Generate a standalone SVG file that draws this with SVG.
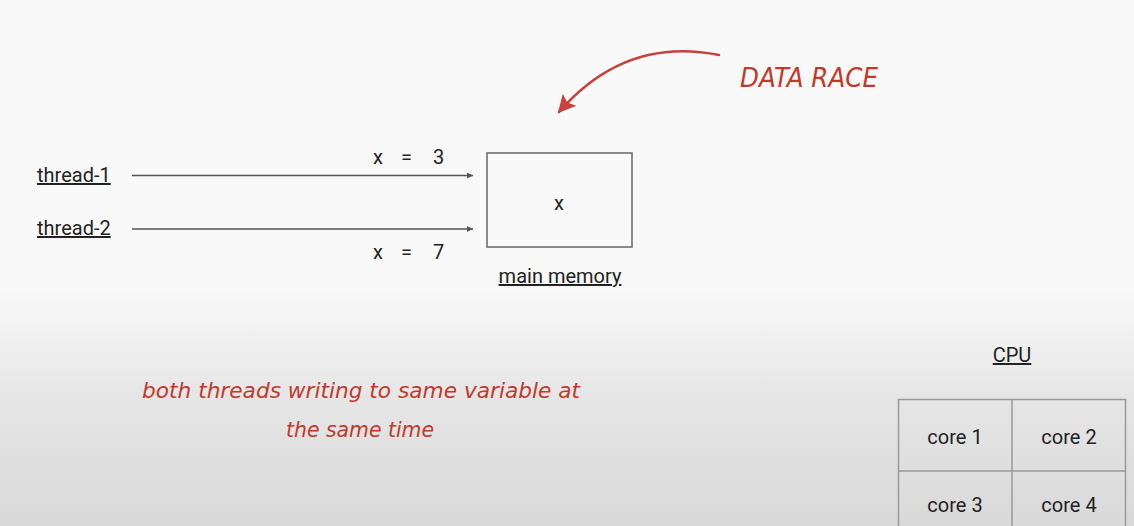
<svg xmlns="http://www.w3.org/2000/svg" width="1134" height="526" viewBox="0 0 1134 526">
<defs>
<linearGradient id="bg" x1="0" y1="0" x2="0" y2="526" gradientUnits="userSpaceOnUse">
<stop offset="0" stop-color="#f9f9f9"/>
<stop offset="0.55" stop-color="#f9f9f9"/>
<stop offset="0.75" stop-color="#e6e6e6"/>
<stop offset="1" stop-color="#d9d9d9"/>
</linearGradient>
<marker id="ah" viewBox="0 0 10 10" refX="10" refY="5" markerWidth="9" markerHeight="6" markerUnits="userSpaceOnUse" orient="auto">
<path d="M0,0 L10,5 L0,10 z" fill="#555"/>
</marker>
<marker id="rh" viewBox="0 0 10 10" refX="9" refY="5" markerWidth="22" markerHeight="18" markerUnits="userSpaceOnUse" orient="auto">
<path d="M0,0 L10,5 L0,10 L2,5 z" fill="#c8413a"/>
</marker>
</defs>
<style>
.lbl{font-family:Roboto,"Liberation Sans",sans-serif;font-size:20px;fill:#222}
.ul{text-decoration:underline}
.hand{font-family:"DejaVu Sans","Liberation Sans",sans-serif;font-style:italic;fill:#c0392b;font-weight:normal}
.box{fill:none;stroke:#666;stroke-width:1.5}
.cell{fill:none;stroke:#999;stroke-width:1.5}
.conn{stroke:#555;stroke-width:1.3;fill:none}
</style>
<rect x="0" y="0" width="1134" height="526" fill="url(#bg)"/>

<g id="thread-1"><text class="lbl ul" x="37" y="182" font-size="21">thread-1</text></g>
<g id="thread-2"><text class="lbl ul" x="37" y="235" font-size="21">thread-2</text></g>

<g id="memory">
<rect class="box" x="487" y="153" width="145" height="94"/>
<text class="lbl" x="559" y="210" text-anchor="middle">x</text>
<text class="lbl ul" x="560" y="283" text-anchor="middle" font-size="21">main memory</text>
</g>

<g id="connectors">
<line class="conn" x1="132" y1="175.5" x2="473" y2="175.5" marker-end="url(#ah)"/>
<line class="conn" x1="132" y1="229" x2="473" y2="229" marker-end="url(#ah)"/>
<text class="lbl" y="164" font-size="21"><tspan x="373">x</tspan><tspan x="401">=</tspan><tspan x="433">3</tspan></text>
<text class="lbl" y="259" font-size="21"><tspan x="373">x</tspan><tspan x="401">=</tspan><tspan x="433">7</tspan></text>
<path d="M719,55 Q625,36 559,112" fill="none" stroke="#c8413a" stroke-width="2.6" stroke-linecap="round" marker-end="url(#rh)"/>
</g>

<g id="data-race"><text class="hand" x="740" y="87" font-size="27" textLength="138" lengthAdjust="spacingAndGlyphs">DATA RACE</text></g>

<g id="note">
<text class="hand" x="142" y="398" font-size="21" textLength="438" lengthAdjust="spacingAndGlyphs">both threads writing to same variable at</text>
<text class="hand" x="286" y="437" font-size="21" textLength="148" lengthAdjust="spacingAndGlyphs">the same time</text>
</g>

<g id="cpu">
<text class="lbl ul" x="1012" y="362" text-anchor="middle" font-size="23">CPU</text>
<rect class="cell" x="898.5" y="399.5" width="227" height="140"/>
<line class="cell" x1="1012" y1="399.5" x2="1012" y2="526"/>
<line class="cell" x1="898.5" y1="471" x2="1125.5" y2="471"/>
<text class="lbl" x="955" y="444" text-anchor="middle" font-size="19">core 1</text>
<text class="lbl" x="1069" y="444" text-anchor="middle" font-size="19">core 2</text>
<text class="lbl" x="955" y="512" text-anchor="middle" font-size="19">core 3</text>
<text class="lbl" x="1069" y="512" text-anchor="middle" font-size="19">core 4</text>
</g>
</svg>
